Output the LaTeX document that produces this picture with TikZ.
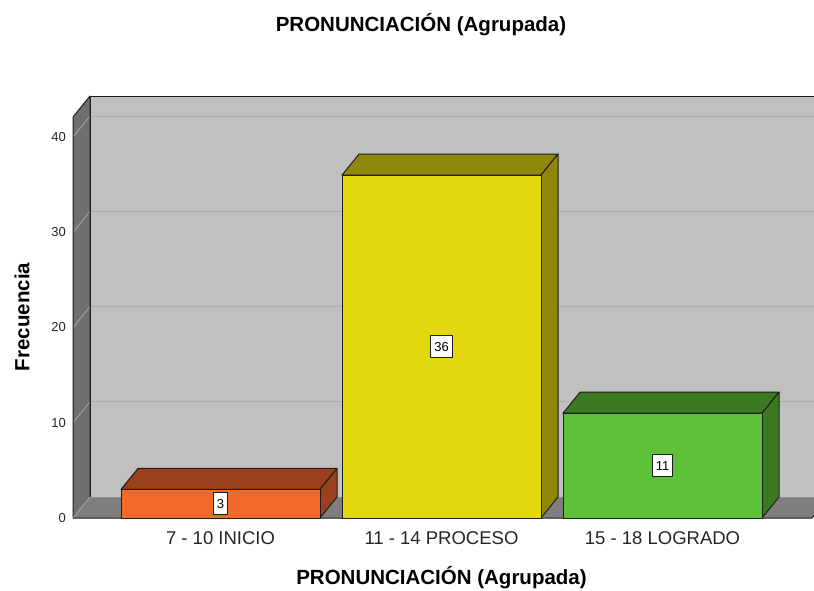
\documentclass[tikz,border=0pt]{standalone}
\usepackage{fontspec}
\setmainfont{Liberation Sans}
\definecolor{backwall}{HTML}{C0C0C0}
\definecolor{sidewall}{HTML}{6F6F6F}
\definecolor{floorc}{HTML}{7E7E7E}
\definecolor{gridback}{HTML}{ADADAD}
\definecolor{gridside}{HTML}{A0A0A0}
\definecolor{edgec}{HTML}{1E1E1E}
\definecolor{orF}{HTML}{F26A2A}
\definecolor{orS}{HTML}{9A401C}
\definecolor{yeF}{HTML}{E3D70F}
\definecolor{yeS}{HTML}{8E870A}
\definecolor{grF}{HTML}{5DC238}
\definecolor{grS}{HTML}{3B7A23}
\begin{document}
\begin{tikzpicture}[x=1pt,y=-1pt,line join=round]
\tikzset{
  edge/.style={draw=edgec,line width=1pt},
  gridb/.style={draw=gridback,line width=1pt},
  grids/.style={draw=gridside,line width=1pt},
  valbox/.style={draw=edgec,fill=white,line width=0.8pt,inner xsep=3.5pt,inner ysep=0pt,minimum height=22pt,font=\fontsize{13}{15}\selectfont},
  ticklab/.style={anchor=east,inner sep=0pt,font=\fontsize{13}{15}\selectfont,text=black!85},
  catlab/.style={inner sep=0pt,font=\fontsize{18.5}{22}\selectfont,text=black!85},
  ttl/.style={inner sep=0pt,font=\fontsize{20.5}{24}\selectfont\bfseries}
}
\useasboundingbox (0,0) rectangle (814,590);
\fill[white] (0,0) rectangle (814,590);
\begin{scope}
\clip (0,0) rectangle (814,590);
% back wall
\fill[backwall] (90,96) rectangle (840,497);
\foreach \k in {1,2,3,4} {
  \draw[gridb] (90,{497-95.25*\k}) -- (840,{497-95.25*\k});
}
\draw[edge] (90,497) -- (90,96) -- (840,96);
% side wall
\fill[sidewall] (73,117) -- (90,96) -- (90,497) -- (73,518) -- cycle;
\foreach \k in {1,2,3,4} {
  \draw[grids] (73,{518-95.25*\k}) -- (90,{497-95.25*\k});
}
\draw[edge] (73,518) -- (73,117) -- (90,96) -- (90,497);
% floor
\fill[floorc] (73,518) -- (90,497) -- (840,497) -- (812,518) -- cycle;
\draw[grids] (73,518) -- (90,497);
\draw[draw=black!45,line width=0.8pt] (90,497) -- (840,497);
\draw[edge] (73,518) -- (812,518) -- (829,497);
% bars
\foreach \i/\xl/\yt/\cf/\cs/\v in {1/121/489.4/orF/orS/3, 2/342/175.1/yeF/yeS/36, 3/563/413.2/grF/grS/11} {
  \filldraw[fill=\cs,edge] (\xl,\yt) -- ++(17,-21) -- ++(199,0) -- ++(-17,21) -- cycle;
  \filldraw[fill=\cs,edge] (\xl+199,\yt) -- ++(17,-21) -- (\xl+216,497) -- (\xl+199,518) -- cycle;
  \filldraw[fill=\cf,edge] (\xl,\yt) rectangle (\xl+199,518);
  \node[valbox] (val\i) at ({\xl+99.5},{(\yt+518)/2}) {\v};
}
\end{scope}
% tick labels
\foreach \k/\t in {0/0,1/10,2/20,3/30,4/40} {
  \node[ticklab] (tick\k) at (66,{518-95.25*\k}) {\t};
}
% category labels
\node[catlab] (cat1) at (220.5,538) {7 - 10 INICIO};
\node[catlab] (cat2) at (441.5,538) {11 - 14 PROCESO};
\node[catlab] (cat3) at (662.5,538) {15 - 18 LOGRADO};
% titles
\node[ttl] (title) at (421,25) {PRONUNCIACIÓN (Agrupada)};
\node[ttl] (xtitle) at (441.5,578) {PRONUNCIACIÓN (Agrupada)};
\node[ttl,rotate=90] (ytitle) at (22,317) {Frecuencia};
\end{tikzpicture}
\end{document}
